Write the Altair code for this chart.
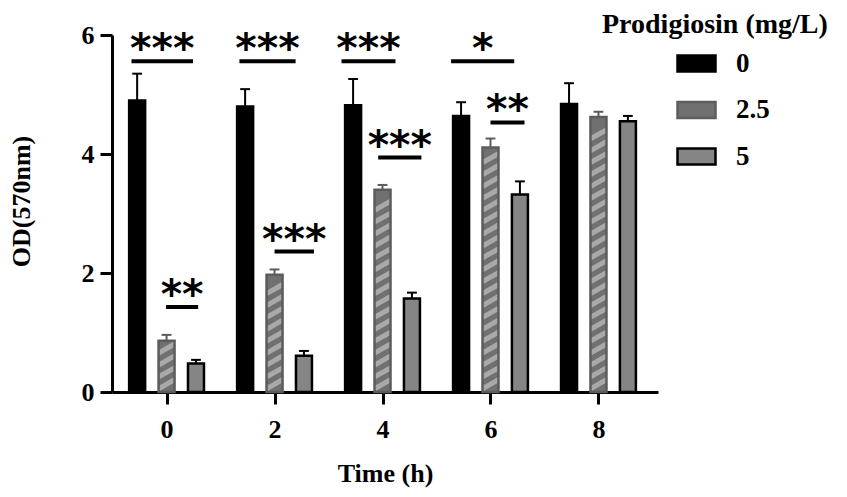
import altair as alt
import pandas as pd

# ---- data ----
times = [0, 2, 4, 6, 8]
series = ["0", "2.5", "5"]
od_0 = [4.90, 4.80, 4.82, 4.64, 4.84]
od_25 = [0.86, 1.97, 3.40, 4.11, 4.62]
od_5 = [0.48, 0.61, 1.57, 3.32, 4.55]
sd_0 = [0.45, 0.29, 0.44, 0.23, 0.35]
sd_25 = [0.10, 0.09, 0.08, 0.15, 0.09]
sd_5 = [0.06, 0.08, 0.10, 0.22, 0.09]

# significance brackets: group time, span (in hours relative to group), height, label
sig_time = [0, 2, 4, 6, 0, 2, 4, 6]
sig_from = [-0.65, -0.65, -0.76, -0.73, -0.01, 0.0, -0.08, 0.0]
sig_to = [0.49, 0.39, 0.24, 0.44, 0.585, 0.73, 0.72, 0.63]
sig_y = [5.56, 5.56, 5.56, 5.56, 1.43, 2.36, 3.94, 4.53]
sig_label = ["***", "***", "***", "*", "**", "***", "***", "**"]

# ---- layout / style constants ----
GAP = 0.545          # spacing between bars of a group (hours)
CAP = 0.091          # half width of error-bar caps (hours)
SERIF = "Liberation Serif"
FILLS = ["#000000", "#707070", "#858585"]
STROKES = ["#000000", "#5c5c5c", "#000000"]
STROKE_W = [2.5, 2.5, 4]
STRIPE = "M-1,1L-1,0.14L1,-1L1,-0.14Z"

rows = []
for idx, (vals, sds) in enumerate([(od_0, sd_0), (od_25, sd_25), (od_5, sd_5)]):
    for t, v, s in zip(times, vals, sds):
        rows.append({"time": t, "series": series[idx], "idx": idx, "value": v, "sd": s})
df = pd.DataFrame(rows)

sig = pd.DataFrame({"time": sig_time, "a": sig_from, "b": sig_to,
                    "y": sig_y, "label": sig_label})

xscale = alt.Scale(domain=[-0.918, 9.01], nice=False, zero=False)
yscale = alt.Scale(domain=[0, 6], nice=False)
xaxis = alt.Axis(values=times, format="d", title="Time (h)", labelPadding=12,
                 titlePadding=18)
yaxis = alt.Axis(values=[0, 2, 4, 6], title="OD(570nm)", labelPadding=6,
                 titlePadding=47, titleY=166)


def X(field, **kw):
    return alt.X(field, type="quantitative", scale=xscale, axis=xaxis, **kw)


def Y(field):
    return alt.Y(field, type="quantitative", scale=yscale, axis=yaxis)


legend = alt.Legend(
    title="Prodigiosin (mg/L)", orient="none", legendX=490, legendY=-24,
    padding=0, symbolType="M-1,-0.42L1,-0.42L1,0.42L-1,0.42Z", symbolSize=1444,
    symbolStrokeWidth=3, symbolOffset=74, labelOffset=19, rowPadding=12.5,
    titlePadding=4, titleLimit=400, labelLimit=200,
)

base = alt.Chart(df).transform_calculate(
    xpos=f"datum.time + (datum.idx - 1) * {GAP}",
    top="datum.value + datum.sd",
    ecol="datum.series == '2.5' ? '#5c5c5c' : '#000000'",
)

bars = base.mark_bar(width=16).encode(
    x=X("xpos"),
    y=Y("value"),
    fill=alt.Fill("series:N", scale=alt.Scale(domain=series, range=FILLS), legend=legend),
    stroke=alt.Stroke("series:N", scale=alt.Scale(domain=series, range=STROKES), legend=legend),
    strokeWidth=alt.StrokeWidth("series:N", scale=alt.Scale(domain=series, range=STROKE_W), legend=None),
)

hatch = alt.Chart(df[df["series"] == "2.5"]).transform_calculate(
    s="sequence(0.13, datum.value - 0.11, 0.2)"
).transform_flatten(["s"]).mark_point(
    shape=STRIPE, filled=True, size=180, color="#a9a9a9", opacity=1, strokeWidth=0
).encode(x=X("time"), y=Y("s"))

err_line = base.mark_rule(strokeWidth=2).encode(
    x=X("xpos"), y=Y("value"), y2="top:Q", stroke=alt.Stroke("ecol:N", scale=None)
)
err_cap = base.transform_calculate(
    c1=f"datum.xpos - {CAP}", c2=f"datum.xpos + {CAP}"
).mark_rule(strokeWidth=2).encode(
    x=X("c1"), x2="c2:Q", y=Y("top"), stroke=alt.Stroke("ecol:N", scale=None)
)

sig_base = alt.Chart(sig).transform_calculate(
    x1="datum.time + datum.a", x2="datum.time + datum.b",
    xm="datum.time + (datum.a + datum.b) / 2",
)
sig_lines = sig_base.mark_rule(strokeWidth=4, color="black").encode(
    x=X("x1"), x2="x2:Q", y=Y("y")
)
sig_text = sig_base.mark_text(
    font="DejaVu Sans", fontWeight="bold", fontSize=41, align="center",
    baseline="alphabetic", dy=1, color="black"
).encode(x=X("xm"), y=Y("y"), text="label:N")

chart = alt.layer(bars, hatch, err_line, err_cap, sig_lines, sig_text).properties(
    width=546, height=357,
    autosize=alt.AutoSizeParams(type="none"),
    padding={"left": 104, "top": 27, "right": 181, "bottom": 97},
).configure_view(stroke=None).configure_axis(
    labelFont=SERIF, titleFont=SERIF, labelFontWeight="bold", titleFontWeight="bold",
    labelFontSize=26, titleFontSize=26, labelColor="black", titleColor="black",
    domainColor="black", tickColor="black", domainWidth=3, tickWidth=3, tickSize=12,
    grid=False, zindex=1,
).configure_legend(
    titleFont=SERIF, labelFont=SERIF, titleFontWeight="bold", labelFontWeight="bold",
    titleFontSize=28, labelFontSize=27, titleColor="black", labelColor="black",
)

chart.save("out.html", embed_options={"renderer": "svg", "actions": False})
